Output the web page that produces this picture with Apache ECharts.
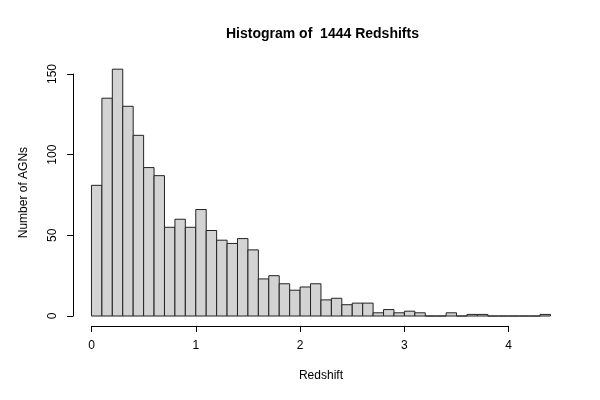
<!DOCTYPE html>
<html>
<head>
<meta charset="utf-8">
<script src="https://cdn.jsdelivr.net/npm/echarts@6/dist/echarts.min.js"></script>
<style>html,body{margin:0;padding:0;background:#fff;}#c{width:600px;height:400px;}</style>
</head>
<body>
<div id="c"></div>
<script>
const breaks = [0.0,0.1,0.2,0.3,0.4,0.5,0.6,0.7,0.8,0.9,1.0,1.1,1.2,1.3,1.4,1.5,1.6,1.7,1.8,1.9,2.0,2.1,2.2,2.3,2.4,2.5,2.6,2.7,2.8,2.9,3.0,3.1,3.2,3.3,3.4,3.5,3.6,3.7,3.8,3.9,4.0,4.1,4.2,4.3,4.4];
const counts = [81,135,153,130,112,92,87,55,60,55,66,53,47,45,48,41,23,25,20,16,18,20,10,11,7,8,8,2,4,2,3,2,0,0,2,0,1,1,0,0,0,0,0,1];
const xTicks = [0,1,2,3,4];
const yTicks = [0,50,100,150];
const titleText = 'Histogram of  1444 Redshifts';
const xName = 'Redshift';
const yName = 'Number of AGNs';

const histData = counts.map((c, i) => [breaks[i], breaks[i + 1], c]);
const font = 'Liberation Sans, Arial, Helvetica, sans-serif';

const chart = echarts.init(document.getElementById('c'), null, {renderer: 'canvas'});
chart.setOption({
  backgroundColor: '#ffffff',
  animation: false,
  title: {
    text: titleText, left: 'center', top: 22, left: 221,
    textStyle: {fontFamily: font, fontSize: 14, fontWeight: 'bold', color: '#000'}
  },
  grid: [
    {left: 73.1, right: 31.2, top: 59.3, bottom: 74.1},
    {left: 91.5, right: 91.3, top: 59.3, bottom: 74.1},
    {left: 73.1, width: 10, top: 74, bottom: 84}
  ],
  xAxis: [
    {gridIndex: 0, type: 'value', min: -0.176, max: 4.576,
     axisLine: {show: false}, axisTick: {show: false}, axisLabel: {show: false}, splitLine: {show: false},
     name: xName, nameLocation: 'middle', nameGap: 44,
     nameTextStyle: {fontFamily: font, fontSize: 12, color: '#000'}},
    {gridIndex: 1, type: 'value', min: xTicks[0], max: xTicks[xTicks.length - 1], interval: 1,
     axisLine: {show: true, lineStyle: {color: '#000', width: 1}},
     axisTick: {show: true, length: 6, lineStyle: {color: '#000'}},
     axisLabel: {margin: 14, fontFamily: font, fontSize: 12, color: '#000'},
     splitLine: {show: false}},
    {gridIndex: 2, type: 'value', show: false}
  ],
  yAxis: [
    {gridIndex: 0, type: 'value', min: -6.12, max: 159.12,
     axisLine: {show: false}, axisTick: {show: false}, axisLabel: {show: false}, splitLine: {show: false},
     name: yName, nameLocation: 'middle', nameGap: 43,
     nameTextStyle: {fontFamily: font, fontSize: 12, color: '#000'}},
    {gridIndex: 1, type: 'value', show: false},
    {gridIndex: 2, type: 'value', min: yTicks[0], max: yTicks[yTicks.length - 1], interval: 50,
     axisLine: {show: true, lineStyle: {color: '#000', width: 1}},
     axisTick: {show: true, length: 6, lineStyle: {color: '#000'}},
     axisLabel: {margin: 14, rotate: 90, fontFamily: font, fontSize: 12, color: '#000'},
     splitLine: {show: false}}
  ],
  series: [{
    type: 'custom',
    xAxisIndex: 0, yAxisIndex: 0,
    data: histData,
    renderItem: function (params, api) {
      const p0 = api.coord([api.value(0), 0]);
      const p1 = api.coord([api.value(1), api.value(2)]);
      return {
        type: 'rect',
        shape: {x: p0[0], y: p1[1], width: p1[0] - p0[0], height: p0[1] - p1[1]},
        style: {fill: '#d3d3d3', stroke: '#222', lineWidth: 1}
      };
    }
  }]
});
</script>
</body>
</html>
